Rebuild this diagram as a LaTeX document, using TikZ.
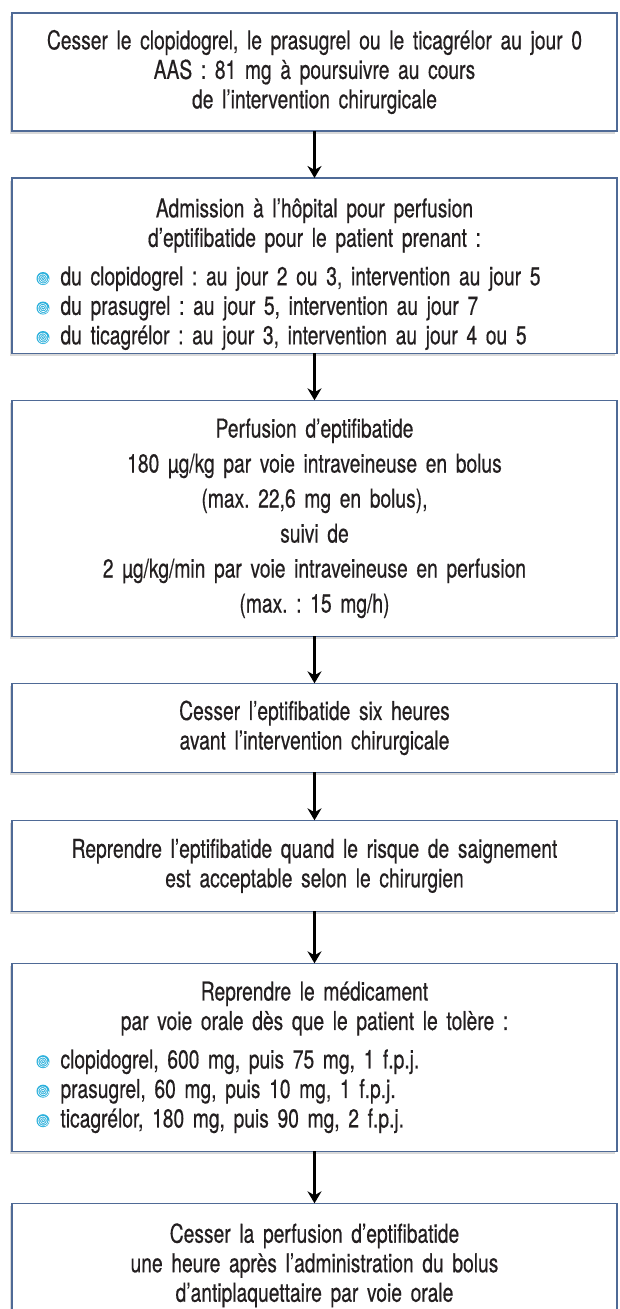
\documentclass[tikz,border=0pt]{standalone}
\usepackage{fontspec}
\setmainfont{TeX Gyre Heros}[FakeStretch=0.74, FakeBold=0.4, WordSpace=0.75]
\usepackage{tikz}
\usetikzlibrary{positioning, arrows.meta, shadows}
\definecolor{cadre}{HTML}{4F6A96}
\definecolor{spirale}{HTML}{2AB0DC}
\definecolor{texte}{HTML}{231F20}
\tikzset{
  etape/.style={
    draw=cadre, line width=1.6pt, fill=white, text=texte, outer sep=0pt,
    text width=580pt, minimum width=605pt, inner xsep=12.5pt,
    align=center,
    font=\fontsize{26pt}{29.5pt}\selectfont\frenchspacing,
    drop shadow={shadow xshift=-2.5pt, shadow yshift=-2.5pt, fill=black, opacity=.15}
  },
  fleche/.style={-{Stealth[length=12pt,width=14pt]}, line width=2.6pt},
  node distance=47pt
}
\newcommand{\puce}{\tikz[baseline=-0.5ex]{
    \fill[spirale] (0,0) circle (6.5pt);
    \draw[white, line width=0.6pt] plot[domain=0:1080, samples=80, smooth] ({\x}:{0.5pt+\x/1080*5.2pt});}\hspace{11pt}}

\begin{document}
\begin{tikzpicture}
\useasboundingbox (0,0) rectangle (620pt,-1309pt);

\node[etape, minimum height=118pt] (arret) at (314.5pt,-72pt)
  {Cesser le clopidogrel, le prasugrel ou le ticagrélor au jour 0\\
   AAS~: 81 mg à poursuivre au cours\\
   de l’intervention chirurgicale};

\node[etape, minimum height=174pt, below=of arret] (admission)
  {\rule{0pt}{36pt}Admission à l’hôpital pour perfusion\\
   d’eptifibatide pour le patient prenant~:\par\vspace{9pt}
   {\raggedright\leftskip=12pt
   \puce du clopidogrel~: au jour 2 ou 3, intervention au jour 5\\
   \puce du prasugrel~: au jour 5, intervention au jour 7\\
   \puce du ticagrélor~: au jour 3, intervention au jour 4 ou 5\par}};

\node[etape, minimum height=236pt, below=of admission,
      font=\fontsize{26pt}{35pt}\selectfont\frenchspacing] (perfusion)
  {Perfusion d’eptifibatide\\
   180 µg/kg par voie intraveineuse en bolus\\
   (max. 22,6 mg en bolus),\\
   suivi de\\
   2 µg/kg/min par voie intraveineuse en perfusion\\
   (max.~: 15 mg/h)};

\node[etape, minimum height=89pt, below=of perfusion] (stop)
  {Cesser l’eptifibatide six heures\\
   avant l’intervention chirurgicale};

\node[etape, minimum height=91pt, below=48pt of stop] (reprise)
  {Reprendre l’eptifibatide quand le risque de saignement\\
   est acceptable selon le chirurgien};

\node[etape, minimum height=188pt, below=52pt of reprise] (oral)
  {Reprendre le médicament\\
   par voie orale dès que le patient le tolère~:\par\vspace{9pt}
   {\raggedright\leftskip=12pt
   \puce clopidogrel, 600 mg, puis 75 mg, 1 f.p.j.\\
   \puce prasugrel, 60 mg, puis 10 mg, 1 f.p.j.\\
   \puce ticagrélor, 180 mg, puis 90 mg, 2 f.p.j.\par}};

\node[etape, minimum height=124pt, below=52pt of oral] (fin)
  {Cesser la perfusion d’eptifibatide\\
   une heure après l’administration du bolus\\
   d’antiplaquettaire par voie orale};

\draw[fleche] (arret) -- (admission);
\draw[fleche] (admission) -- (perfusion);
\draw[fleche] (perfusion) -- (stop);
\draw[fleche] (stop) -- (reprise);
\draw[fleche] (reprise) -- (oral);
\draw[fleche] (oral) -- (fin);

\end{tikzpicture}
\end{document}
